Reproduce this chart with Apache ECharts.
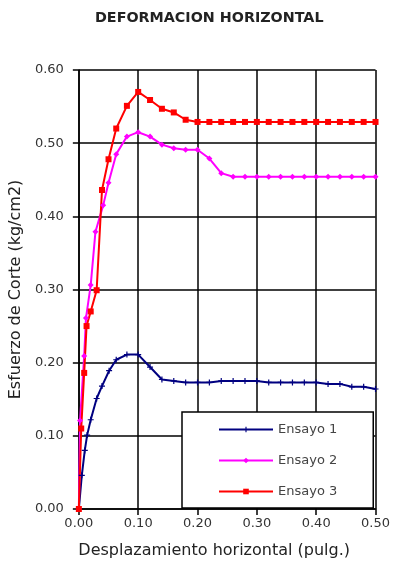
<!DOCTYPE html>
<html>
<head>
<meta charset="utf-8">
<script src="https://cdn.jsdelivr.net/npm/echarts@6/dist/echarts.min.js"></script>
<style>
html,body{margin:0;padding:0;background:#fff;}
#c{width:393px;height:564px;}
</style>
</head>
<body>
<div id="c"></div>
<script>
var titleText = 'DEFORMACION HORIZONTAL';
var xName = 'Desplazamiento horizontal (pulg.)';
var yName = 'Esfuerzo de Corte (kg/cm2)';
var seriesNames = ['Ensayo 1', 'Ensayo 2', 'Ensayo 3'];

var x1 = [0, 0.005, 0.010, 0.014, 0.020, 0.030, 0.039, 0.051, 0.063, 0.081, 0.100, 0.120, 0.140, 0.160, 0.180, 0.200, 0.220, 0.240, 0.260, 0.280, 0.300, 0.320, 0.340, 0.360, 0.380, 0.400, 0.420, 0.440, 0.460, 0.480, 0.500];
var y1 = [0, 0.046, 0.080, 0.101, 0.122, 0.151, 0.168, 0.189, 0.204, 0.211, 0.211, 0.194, 0.177, 0.175, 0.173, 0.173, 0.173, 0.175, 0.175, 0.175, 0.175, 0.173, 0.173, 0.173, 0.173, 0.173, 0.171, 0.171, 0.167, 0.167, 0.164];

var x2 = [0, 0.002, 0.009, 0.012, 0.020, 0.028, 0.041, 0.050, 0.063, 0.081, 0.100, 0.120, 0.140, 0.160, 0.180, 0.200, 0.220, 0.240, 0.260, 0.280, 0.300, 0.320, 0.340, 0.360, 0.380, 0.400, 0.420, 0.440, 0.460, 0.480, 0.500];
var y2 = [0, 0.121, 0.209, 0.261, 0.306, 0.379, 0.415, 0.446, 0.485, 0.509, 0.515, 0.509, 0.498, 0.493, 0.491, 0.491, 0.479, 0.459, 0.454, 0.454, 0.454, 0.454, 0.454, 0.454, 0.454, 0.454, 0.454, 0.454, 0.454, 0.454, 0.454];

var x3 = [0, 0.004, 0.009, 0.013, 0.020, 0.030, 0.039, 0.050, 0.063, 0.081, 0.100, 0.120, 0.140, 0.160, 0.180, 0.200, 0.220, 0.240, 0.260, 0.280, 0.300, 0.320, 0.340, 0.360, 0.380, 0.400, 0.420, 0.440, 0.460, 0.480, 0.500];
var y3 = [0, 0.110, 0.186, 0.250, 0.270, 0.299, 0.436, 0.478, 0.520, 0.551, 0.570, 0.559, 0.547, 0.542, 0.532, 0.529, 0.529, 0.529, 0.529, 0.529, 0.529, 0.529, 0.529, 0.529, 0.529, 0.529, 0.529, 0.529, 0.529, 0.529, 0.529];

function pairs(xs, ys) { return xs.map(function (x, i) { return [x, ys[i]]; }); }

var FONT = '"DejaVu Sans", Verdana, sans-serif';
var plusPath = 'path://M4,0 L6,0 L6,4 L10,4 L10,6 L6,6 L6,10 L4,10 L4,6 L0,6 L0,4 L4,4 Z';

var chart = echarts.init(document.getElementById('c'), null, {renderer: 'canvas'});
chart.setOption({
  backgroundColor: '#fff',
  animation: false,
  title: {
    text: titleText,
    left: 95, top: 6,
    padding: [5, 0, 5, 0],
    textStyle: {fontFamily: FONT, fontSize: 14.3, fontWeight: 'bold', color: '#222'}
  },
  grid: {left: 77, right: 15, top: 70, bottom: 55, containLabel: false},
  xAxis: {
    type: 'value', min: 0, max: 0.5, interval: 0.1,
    name: xName, nameLocation: 'middle', nameGap: 34,
    nameTextStyle: {fontFamily: FONT, fontSize: 16, color: '#222', padding: [0, 26, 0, 0]},
    axisLine: {show: true, onZero: false, lineStyle: {color: '#000', width: 1.5}},
    axisTick: {show: true, inside: false, length: 6, lineStyle: {color: '#000', width: 1.5}},
    axisLabel: {fontFamily: FONT, fontSize: 13, color: '#333', margin: 8,
      formatter: function (v) { return v.toFixed(2); }},
    splitLine: {show: true, lineStyle: {color: '#000', width: 1.5}}
  },
  yAxis: {
    type: 'value', min: 0, max: 0.6, interval: 0.1,
    name: yName, nameLocation: 'middle', nameGap: 52, nameRotate: 90,
    nameTextStyle: {fontFamily: FONT, fontSize: 16, color: '#222'},
    axisLine: {show: true, onZero: false, lineStyle: {color: '#000', width: 1.5}},
    axisTick: {show: true, inside: false, length: 6, lineStyle: {color: '#000', width: 1.5}},
    axisLabel: {fontFamily: FONT, fontSize: 13, color: '#333', margin: 15,
      formatter: function (v) { return v.toFixed(2); }},
    splitLine: {show: true, lineStyle: {color: '#000', width: 1.5}}
  },
  legend: {
    orient: 'vertical', left: 182, top: 412,
    padding: [11, 36, 10, 36],
    itemWidth: 54, itemHeight: 7, itemGap: 18,
    backgroundColor: '#fff', borderColor: '#000', borderWidth: 1.5, borderRadius: 0,
    textStyle: {fontFamily: FONT, fontSize: 13, color: '#444'},
    data: seriesNames
  },
  series: [
    {
      name: seriesNames[0], type: 'line', data: pairs(x1, y1),
      symbol: plusPath, symbolSize: 6, showSymbol: true,
      lineStyle: {color: '#000080', width: 2},
      itemStyle: {color: '#000080'}
    },
    {
      name: seriesNames[1], type: 'line', data: pairs(x2, y2),
      symbol: 'diamond', symbolSize: 6, showSymbol: true,
      lineStyle: {color: '#ff00ff', width: 2},
      itemStyle: {color: '#ff00ff'}
    },
    {
      name: seriesNames[2], type: 'line', data: pairs(x3, y3),
      symbol: 'rect', symbolSize: 6, showSymbol: true,
      lineStyle: {color: '#ff0000', width: 2},
      itemStyle: {color: '#ff0000'}
    }
  ]
});
</script>
</body>
</html>
